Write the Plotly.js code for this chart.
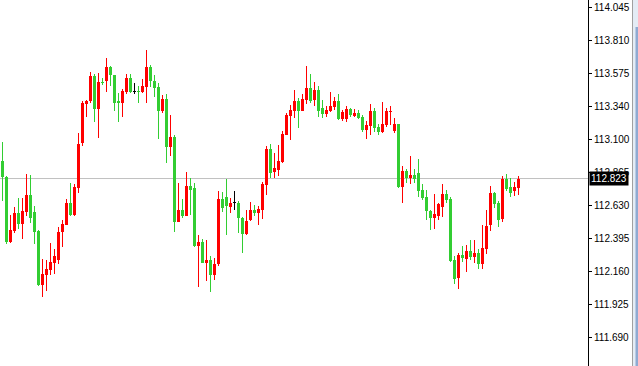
<!DOCTYPE html>
<html>
<head>
<meta charset="utf-8">
<script src="https://cdn.plot.ly/plotly-3.0.1.min.js"></script>
<style>html,body{margin:0;padding:0;background:#fff;}#chart{width:638px;height:366px;}</style>
</head>
<body>
<div id="chart"></div>
<script>
// OHLC values (oldest to newest)
var openP = [112.951,112.836,112.373,112.451,112.580,112.499,112.587,112.706,112.584,112.449,
112.063,112.135,112.170,112.223,112.242,112.442,112.492,112.649,112.563,112.758,
113.079,113.355,113.377,113.555,113.320,113.515,113.522,113.622,113.562,113.379,
113.365,113.441,113.541,113.442,113.450,113.438,113.479,113.622,113.517,113.477,
113.308,113.391,113.046,113.120,112.515,112.599,112.558,112.770,112.756,112.344,
112.370,112.223,112.242,112.135,112.213,112.677,112.694,112.622,112.646,112.649,
112.541,112.427,112.527,112.599,112.577,112.599,112.779,113.034,112.872,112.884,
112.944,113.136,113.272,113.308,113.377,113.308,113.384,113.469,113.384,113.455,
113.324,113.284,113.308,113.336,113.377,113.248,113.248,113.320,113.272,113.293,
113.260,113.170,113.201,113.305,113.189,113.158,113.205,113.300,113.165,113.212,
112.765,112.877,112.829,112.848,112.863,112.741,112.691,112.591,112.544,112.556,
112.622,112.713,112.677,112.242,112.116,112.277,112.246,112.306,112.265,112.289,
112.213,112.323,112.492,112.718,112.649,112.534,112.820,112.760,112.737,112.756];
var highP = [113.086,112.841,112.563,112.622,112.684,112.684,112.856,112.848,112.627,112.456,
112.246,112.242,112.363,112.323,112.480,112.525,112.675,112.791,112.784,113.151,
113.379,113.384,113.581,113.567,113.579,113.543,113.686,113.629,113.562,113.431,
113.465,113.572,113.572,113.507,113.484,113.531,113.741,113.636,113.560,113.505,
113.419,113.424,113.277,113.134,112.791,112.677,112.870,112.829,112.791,112.420,
112.392,112.384,112.270,112.256,112.734,112.729,112.822,112.684,112.734,112.660,
112.549,112.601,112.656,112.634,112.630,112.801,113.055,113.072,113.008,113.063,
113.165,113.289,113.348,113.455,113.400,113.424,113.626,113.572,113.512,113.484,
113.384,113.343,113.441,113.408,113.427,113.312,113.343,113.329,113.320,113.312,
113.277,113.234,113.355,113.327,113.212,113.369,113.324,113.341,113.253,113.212,
112.913,112.891,112.984,112.891,112.963,112.784,112.741,112.599,112.713,112.649,
112.784,112.741,112.694,112.270,112.289,112.342,112.349,112.384,112.384,112.318,
112.492,112.599,112.770,112.727,112.663,112.841,112.856,112.827,112.798,112.841];
var lowP = [112.665,112.354,112.365,112.432,112.465,112.392,112.558,112.508,112.356,112.056,
111.980,112.023,112.135,112.139,112.211,112.337,112.489,112.558,112.556,112.722,
113.055,113.265,113.360,113.229,113.115,113.491,113.443,113.484,113.308,113.229,
113.265,113.424,113.431,113.424,113.360,113.431,113.360,113.479,113.408,113.108,
113.293,112.936,112.986,112.444,112.515,112.541,112.558,112.565,112.332,112.051,
112.223,112.094,112.016,112.099,112.199,112.584,112.423,112.580,112.601,112.437,
112.294,112.420,112.520,112.558,112.492,112.534,112.708,112.829,112.825,112.844,
112.934,113.132,113.098,113.258,113.186,113.308,113.358,113.360,113.343,113.265,
113.258,113.265,113.296,113.312,113.241,113.236,113.229,113.265,113.265,113.248,
113.158,113.105,113.136,113.155,113.136,113.146,113.189,113.205,113.151,112.756,
112.651,112.794,112.784,112.789,112.689,112.670,112.527,112.456,112.463,112.527,
112.551,112.649,112.230,112.070,112.037,112.230,112.158,112.242,112.223,112.177,
112.177,112.285,112.451,112.610,112.480,112.513,112.732,112.694,112.701,112.708];
var closeP = [112.832,112.373,112.456,112.580,112.499,112.591,112.706,112.544,112.442,112.063,
112.142,112.177,112.230,112.270,112.439,112.499,112.649,112.563,112.765,113.070,
113.365,113.377,113.555,113.320,113.515,113.503,113.622,113.560,113.365,113.365,
113.450,113.541,113.438,113.442,113.438,113.484,113.622,113.522,113.472,113.308,
113.391,113.051,113.120,112.515,112.599,112.558,112.770,112.744,112.344,112.370,
112.223,112.242,112.135,112.213,112.677,112.615,112.630,112.649,112.646,112.541,
112.427,112.520,112.599,112.575,112.606,112.787,113.034,112.865,112.898,112.948,
113.141,113.277,113.312,113.377,113.308,113.391,113.469,113.379,113.455,113.308,
113.286,113.312,113.341,113.377,113.248,113.296,113.320,113.277,113.289,113.258,
113.170,113.205,113.305,113.186,113.158,113.212,113.308,113.308,113.212,112.765,
112.877,112.829,112.848,112.817,112.734,112.687,112.594,112.544,112.570,112.641,
112.713,112.672,112.237,112.106,112.277,112.254,112.306,112.265,112.289,112.213,
112.325,112.484,112.718,112.641,112.527,112.820,112.748,112.722,112.763,112.823];

var tickVals = [114.045,113.810,113.575,113.340,113.100,112.865,112.630,112.395,112.160,111.925,111.690];
var tickText = ["114.045","113.810","113.575","113.340","113.100","112.865","112.630","112.395","112.160","111.925","111.690"];

var UP = "#FF0000", DOWN = "#32CD32", FLAT = "#000000";
var idx = [], colors = [], bodyBase = [], bodyH = [], wickBase = [], wickH = [];
for (var i = 0; i < closeP.length; i++) {
  idx.push(i);
  var o = openP[i], c = closeP[i];
  colors.push(c > o ? UP : (c < o ? DOWN : FLAT));
  bodyBase.push(Math.min(o, c));
  bodyH.push(Math.max(Math.abs(c - o), 0.0075));
  wickBase.push(lowP[i]);
  wickH.push(highP[i] - lowP[i]);
}
var last = closeP[closeP.length - 1];

var traces = [
  {type: "bar", x: idx, y: wickH, base: wickBase, width: 0.25,
   marker: {color: colors, line: {width: 0}}, hoverinfo: "skip", showlegend: false},
  {type: "bar", x: idx, y: bodyH, base: bodyBase, width: 0.75,
   marker: {color: colors, line: {width: 0}}, hoverinfo: "skip", showlegend: false}
];

var layout = {
  width: 638, height: 366,
  margin: {l: 0, r: 50, t: 0, b: 0, pad: 0},
  paper_bgcolor: "#FFFFFF", plot_bgcolor: "#FFFFFF",
  barmode: "overlay", bargap: 0, showlegend: false,
  xaxis: {range: [-0.625, 146.375], showgrid: false, zeroline: false,
          showticklabels: false, ticks: "", showline: false, fixedrange: true},
  yaxis: {range: [111.485, 114.097], side: "right", showgrid: false, zeroline: false,
          showline: true, linecolor: "#000000", linewidth: 1, mirror: false,
          ticks: "outside", ticklen: 3, tickwidth: 1, tickcolor: "#000000",
          tickmode: "array", tickvals: tickVals, ticktext: tickText,
          tickfont: {family: "Liberation Sans, Arial, sans-serif", size: 10, color: "#000000"},
          fixedrange: true},
  shapes: [
    {type: "line", xref: "paper", yref: "y", x0: 0, x1: 1, y0: last, y1: last,
     line: {color: "#C0C0C0", width: 1}, layer: "below"},
    {type: "rect", xref: "paper", yref: "paper", x0: 632/588, x1: 633/588, y0: 0, y1: 1,
     fillcolor: "#A0A0A0", line: {width: 0}},
    {type: "rect", xref: "paper", yref: "paper", x0: 633/588, x1: 638/588, y0: 0, y1: 1,
     fillcolor: "#E4ECF5", line: {width: 0}},
    {type: "rect", xref: "paper", yref: "paper", x0: 635.5/588, x1: 638/588, y0: 0, y1: 1 - 27/366,
     fillcolor: "#8FAAD2", line: {width: 0}}
  ],
  annotations: [
    {xref: "paper", yref: "y", x: 1, y: last, xanchor: "left", yanchor: "middle", xshift: 1,
     text: last.toFixed(3), showarrow: false, bgcolor: "#000000", borderpad: 1,
     font: {family: "Liberation Sans, Arial, sans-serif", size: 10, color: "#FFFFFF"}}
  ]
};

Plotly.newPlot("chart", traces, layout, {displayModeBar: false, staticPlot: true});
</script>
</body>
</html>
